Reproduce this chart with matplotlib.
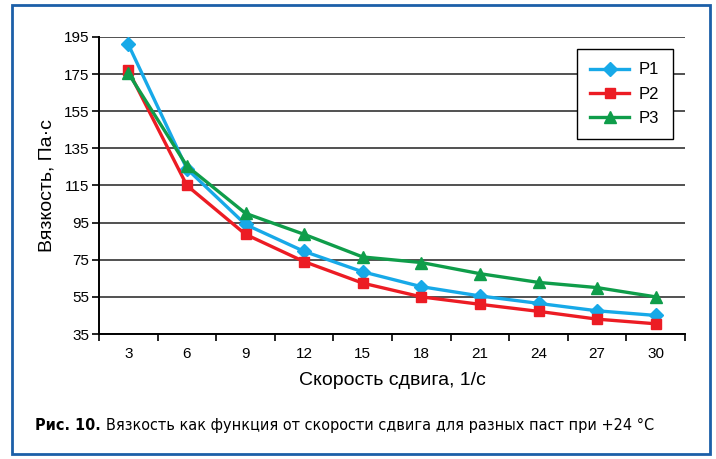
import numpy as np
import matplotlib.pyplot as plt
from matplotlib.patches import Rectangle
from matplotlib.ticker import FixedLocator

# shear rate, 1/s
shear_rate = [3, 6, 9, 12, 15, 18, 21, 24, 27, 30]

# viscosity, Pa*s
p1 = [191, 124, 94, 79.5, 68.5, 60.5, 55.5, 51.5, 47.5, 45]
p2 = [177, 115, 88.7, 74, 62.4, 55, 51, 47.2, 43, 40.5]
p3 = [175.5, 125.5, 100, 88.7, 76.5, 73.5, 67.5, 62.8, 60, 55]

y_ticks = [35, 55, 75, 95, 115, 135, 155, 175, 195]

plt.rcParams['font.family'] = ['Liberation Sans', 'DejaVu Sans']

fig = plt.figure(figsize=(7.16, 4.59), dpi=100)
ax = fig.add_axes([99 / 716, 1 - 334 / 459, (685 - 99) / 716, (334 - 37) / 459])

pos = np.arange(len(shear_rate))
ax.plot(pos, p1, color='#17a9e8', lw=2.4, marker='D', ms=7.5, label='P1')
ax.plot(pos, p2, color='#ec1c24', lw=2.4, marker='s', ms=7.5, label='P2')
ax.plot(pos, p3, color='#0f9d4a', lw=2.4, marker='^', ms=9, label='P3')

ax.set_xlim(-0.5, len(shear_rate) - 0.5)
ax.set_ylim(35, 195)
ax.set_yticks(y_ticks)
ax.yaxis.grid(True, color='#333333', lw=1.2)
ax.set_axisbelow(True)

ax.set_xticks(pos)
ax.set_xticklabels([str(v) for v in shear_rate])
ax.xaxis.set_minor_locator(FixedLocator(np.arange(-0.5, len(shear_rate), 1)))
ax.tick_params(axis='x', which='major', length=0, pad=9, labelsize=11)
ax.tick_params(axis='x', which='minor', length=5, direction='out', width=1.2)
ax.tick_params(axis='y', length=5, direction='out', width=1.2, labelsize=11, pad=2)

for side in ['top', 'right']:
    ax.spines[side].set_visible(False)
for side in ['left', 'bottom']:
    ax.spines[side].set_linewidth(1.4)

ax.set_xlabel('Скорость сдвига, 1/с', fontsize=14, labelpad=8)
ax.set_ylabel('Вязкость, Па·с', fontsize=14, labelpad=6)

leg = ax.legend(loc='upper left', bbox_to_anchor=((577 - 99) / 586, 1 - (49 - 37) / 297),
                borderaxespad=0, fontsize=12, frameon=True, fancybox=False, edgecolor='black',
                handlelength=2.3, borderpad=0.8, labelspacing=0.55, handletextpad=0.6)
leg.get_frame().set_linewidth(1.0)
leg.get_frame().set_alpha(1)

cap_font = dict(family='DejaVu Sans', stretch='condensed', fontsize=11.6)
bold = fig.text(35 / 716, 1 - 425 / 459, 'Рис. 10.', fontweight='bold', va='center', **cap_font)
ax.annotate('Вязкость как функция от скорости сдвига для разных паст при +24 °C',
            xy=(1, 0.5), xycoords=bold, xytext=(4, 0), textcoords='offset points',
            va='center', annotation_clip=False, **cap_font)

fig.patches.append(Rectangle((12 / 716, 1 - 454 / 459), (710 - 12) / 716, (454 - 5) / 459,
                             transform=fig.transFigure, fill=False, edgecolor='#1c5fa8', lw=2))

fig.savefig('out.png', dpi=100)
